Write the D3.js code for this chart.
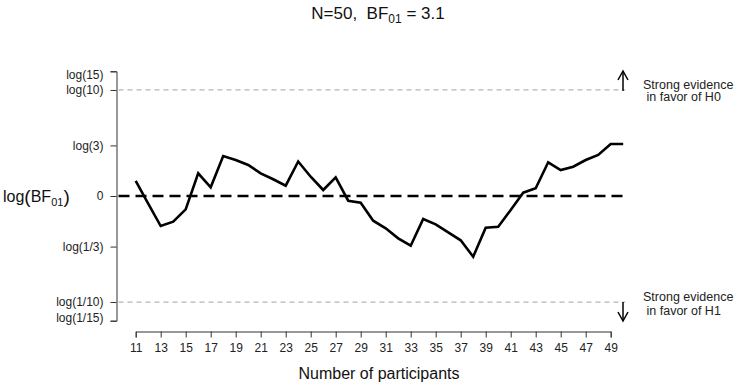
<!DOCTYPE html>
<html><head><meta charset="utf-8">
<script src="https://cdn.jsdelivr.net/npm/d3@7"></script>
<style>
body{margin:0;background:#fff;}
text{font-family:"Liberation Sans",Arial,sans-serif;}
</style></head>
<body>
<svg id="chart" width="737" height="386"></svg>
<script>
const participants = d3.range(11, 51);
const logBF = [0.326,-0.167,-0.652,-0.558,-0.289,0.493,0.189,0.869,0.782,0.673,
  0.493,0.363,0.224,0.749,0.419,0.130,0.406,-0.102,-0.146,-0.536,
  -0.702,-0.919,-1.079,-0.500,-0.615,-0.788,-0.962,-1.318,-0.688,-0.667,
  -0.304,0.072,0.167,0.732,0.565,0.636,0.782,0.891,1.129,1.129];
const xTicks = d3.range(11, 50, 2);
const yTickValues = [Math.log(15), Math.log(10), Math.log(3), 0, -Math.log(3), -Math.log(10), -Math.log(15)];
const yTickLabels = ["log(15)","log(10)","log(3)","0","log(1/3)","log(1/10)","log(1/15)"];
const thresholds = [Math.log(10), -Math.log(10)];

const svg = d3.select("#chart");
const x = d3.scaleLinear().domain([11, 49]).range([135.7, 610.7]);
const y = d3.scaleLinear().domain([-Math.log(15), Math.log(15)]).range([320.7, 71.3]);
const xEnd = x(50) + 2;
const axisX0 = 116.5, axisY0 = 331.5;

// threshold grey dashed lines
svg.selectAll("line.thr").data(thresholds).join("line")
  .attr("x1", axisX0 + 2).attr("x2", xEnd)
  .attr("y1", d => y(d)).attr("y2", d => y(d))
  .attr("stroke", "#b5b5b5").attr("stroke-width", 1.2)
  .attr("stroke-dasharray", "5,4");

// zero line
svg.append("line")
  .attr("x1", axisX0 + 2).attr("x2", xEnd)
  .attr("y1", y(0)).attr("y2", y(0))
  .attr("stroke", "#000").attr("stroke-width", 2.6)
  .attr("stroke-dasharray", "11,6");

// data line
svg.append("path")
  .datum(participants.map((n, i) => [n, logBF[i]]))
  .attr("fill", "none").attr("stroke", "#000").attr("stroke-width", 2.6)
  .attr("stroke-linejoin", "miter")
  .attr("d", d3.line().x(d => x(d[0])).y(d => y(d[1])));

// x axis
const gx = svg.append("g").attr("transform", `translate(0,${axisY0})`)
  .call(d3.axisBottom(x).tickValues(xTicks).tickSizeOuter(0).tickSize(6).tickPadding(6).tickFormat(d3.format("d")));
gx.select(".domain").attr("stroke", "#333");
gx.selectAll(".tick line").attr("stroke", "#333");
gx.selectAll(".tick text").attr("font-size", 12).attr("fill", "#222")
  .attr("font-family", '"Liberation Sans",Arial,sans-serif');

// y axis
const gy = svg.append("g").attr("transform", `translate(${axisX0},0)`)
  .call(d3.axisLeft(y).tickValues(yTickValues).tickSizeOuter(0).tickSize(6).tickPadding(7)
    .tickFormat((d, i) => yTickLabels[i]));
gy.select(".domain").attr("stroke", "#333");
gy.selectAll(".tick line").attr("stroke", "#333");
gy.selectAll(".tick text").attr("font-size", 12).attr("fill", "#222")
  .attr("font-family", '"Liberation Sans",Arial,sans-serif')
  .attr("dy", (d, i) => i === 0 ? "0.62em" : (i === yTickLabels.length - 1 ? "0.1em" : "0.32em"));

// title
const title = svg.append("text").attr("x", 378).attr("y", 19).attr("text-anchor", "middle")
  .attr("font-size", 17).attr("fill", "#111").style("white-space", "pre");
title.append("tspan").text("N=50,  BF");
title.append("tspan").attr("font-size", 12).attr("dy", 4).text("01");
title.append("tspan").attr("dy", -4).text(" = 3.1");

// x label
svg.append("text").attr("x", 379).attr("y", 379).attr("text-anchor", "middle")
  .attr("font-size", 16).attr("fill", "#111").text("Number of participants");

// y label
const yl = svg.append("text").attr("x", 3).attr("y", 202).attr("font-size", 16).attr("fill", "#111");
yl.append("tspan").text("log");
yl.append("tspan").attr("font-size", 19).attr("dy", 1).text("(");
yl.append("tspan").attr("dy", -1).text("BF");
yl.append("tspan").attr("font-size", 11).attr("dy", 4).text("01");
yl.append("tspan").attr("font-size", 19).attr("dy", -3).text(")");

// arrows
const arrowX = 623;
function arrow(y1, y2) {
  const dir = y2 < y1 ? 1 : -1;
  svg.append("line").attr("x1", arrowX).attr("x2", arrowX).attr("y1", y1).attr("y2", y2)
    .attr("stroke", "#000").attr("stroke-width", 1.5);
  svg.append("path")
    .attr("d", `M${arrowX-5},${y2 + dir*9}L${arrowX},${y2}L${arrowX+5},${y2 + dir*9}`)
    .attr("fill", "none").attr("stroke", "#000").attr("stroke-width", 1.5);
}
arrow(91, 71);
arrow(302, 321);

// annotations
const notes = [
  {x: 643, y: 88.5, t: "Strong evidence"}, {x: 646.5, y: 101, t: "in favor of H0"},
  {x: 643, y: 300.5, t: "Strong evidence"}, {x: 646.5, y: 314.5, t: "in favor of H1"}
];
svg.selectAll("text.note").data(notes).join("text").attr("class", "note")
  .attr("x", d => d.x).attr("y", d => d.y).attr("font-size", 12.5).attr("fill", "#222")
  .text(d => d.t);
</script>
</body></html>
